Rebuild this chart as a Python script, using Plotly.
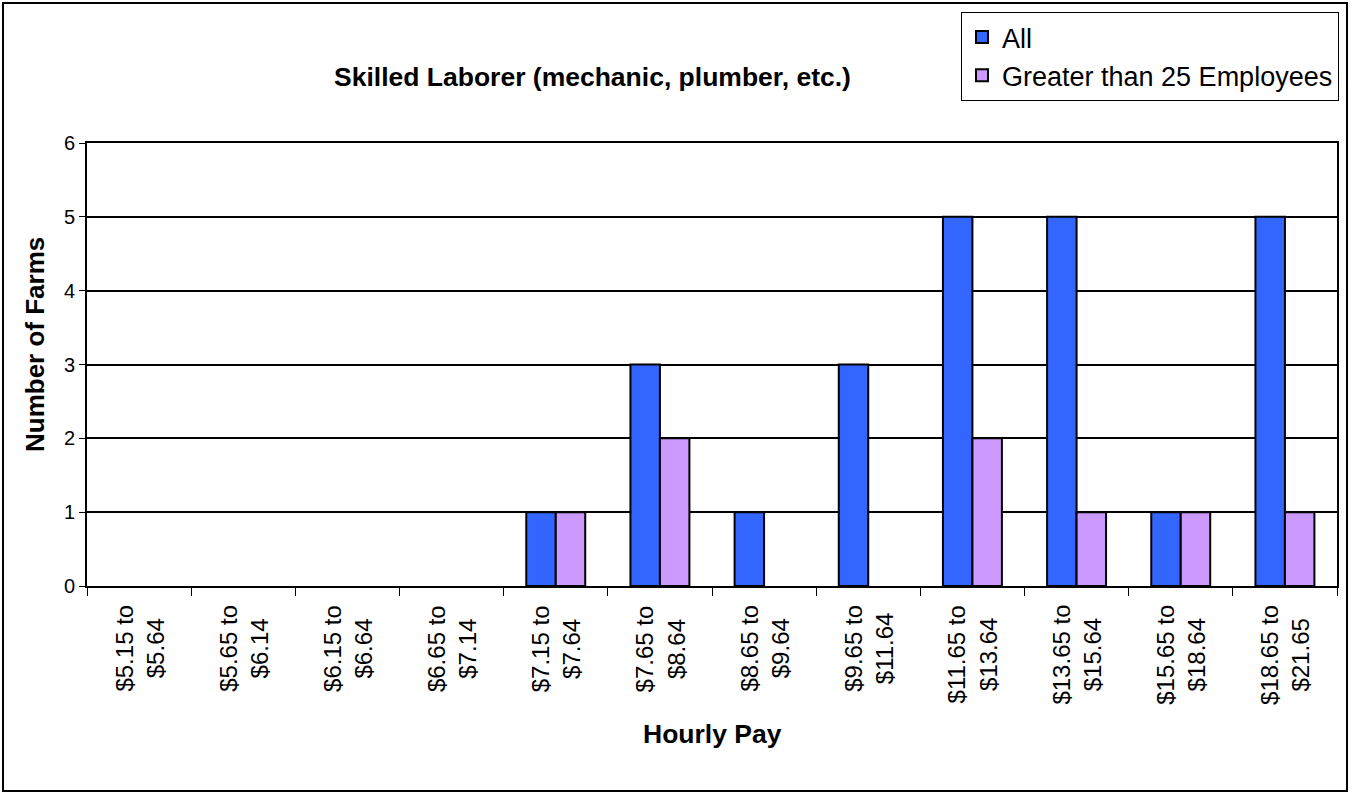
import plotly.graph_objects as go

categories = ["$5.15 to<br>$5.64", "$5.65 to<br>$6.14", "$6.15 to<br>$6.64", "$6.65 to<br>$7.14",
              "$7.15 to<br>$7.64", "$7.65 to<br>$8.64", "$8.65 to<br>$9.64", "$9.65 to<br>$11.64",
              "$11.65 to<br>$13.64", "$13.65 to<br>$15.64", "$15.65 to<br>$18.64", "$18.65 to<br>$21.65"]
all_farms = [0, 0, 0, 0, 1, 3, 1, 3, 5, 5, 1, 5]
gt25_farms = [0, 0, 0, 0, 1, 2, 0, 0, 2, 1, 1, 1]
y_ticks = [0, 1, 2, 3, 4, 5, 6]

FONT = "Liberation Sans, Arial, sans-serif"

fig = go.Figure()
fig.add_trace(go.Bar(x=categories, y=all_farms, name="All",
                     marker=dict(color="#3366FF",
                                 line=dict(color="black", width=[2 if v else 0 for v in all_farms]))))
fig.add_trace(go.Bar(x=categories, y=gt25_farms, name="Greater than 25 Employees",
                     marker=dict(color="#CC99FF",
                                 line=dict(color="black", width=[2 if v else 0 for v in gt25_farms]))))

L, R, T, B = 87, 1337, 143, 586
W, H = 1354, 793
pw, ph = R - L, B - T

def px(x):
    return (x - L) / pw

def py(y):
    return (B - y) / ph

annotations = [
    dict(text="<b>Skilled Laborer (mechanic, plumber, etc.)</b>", xref="paper", yref="paper",
         x=px(592), y=py(77), xanchor="center", yanchor="middle", showarrow=False,
         font=dict(size=26.5, family=FONT)),
    dict(text="<b>Hourly Pay</b>", xref="paper", yref="paper",
         x=px(712), y=py(734), xanchor="center", yanchor="middle", showarrow=False,
         font=dict(size=26.5, family=FONT)),
    dict(text="<b>Number of Farms</b>", xref="paper", yref="paper",
         x=px(35), y=py(345), xanchor="center", yanchor="middle", showarrow=False,
         textangle=-90, font=dict(size=26, family=FONT)),
]
for c in categories:
    annotations.append(dict(text=c, xref="x", yref="paper", x=c, y=py(603),
                            xanchor="center", yanchor="top", showarrow=False,
                            textangle=-90, align="center",
                            font=dict(size=24, family=FONT)))

fig.update_layout(
    width=W, height=H,
    margin=dict(l=L, r=W - R, t=T, b=H - B, autoexpand=False),
    paper_bgcolor="white", plot_bgcolor="white",
    font=dict(family=FONT, color="black"),
    barmode="group", bargap=0.434, bargroupgap=0,
    showlegend=True,
    legend=dict(x=px(961), y=py(12), xanchor="left", yanchor="top",
                bordercolor="black", borderwidth=1, bgcolor="white",
                font=dict(size=27, family=FONT), tracegroupgap=0,
                itemsizing="constant"),
    xaxis=dict(showticklabels=False,
               showline=True, linecolor="black", linewidth=2, mirror=True,
               ticks="outside", tickson="boundaries", ticklen=8, tickcolor="black",
               tickwidth=1, showgrid=False),
    yaxis=dict(range=[0, 6], tickvals=y_ticks, tickfont=dict(size=20, family=FONT),
               showline=True, linecolor="black", linewidth=2, mirror=True,
               ticks="outside", ticklen=6, tickcolor="black", tickwidth=1,
               showgrid=True, gridcolor="black", gridwidth=2, zeroline=False),
    shapes=[dict(type="rect", xref="paper", yref="paper",
                 x0=px(3), x1=px(1347), y0=py(791), y1=py(3),
                 line=dict(color="black", width=2), layer="below")],
    annotations=annotations,
)

fig.write_html("out.html", config={"displayModeBar": False},
               post_script="document.body.style.margin='0';")
